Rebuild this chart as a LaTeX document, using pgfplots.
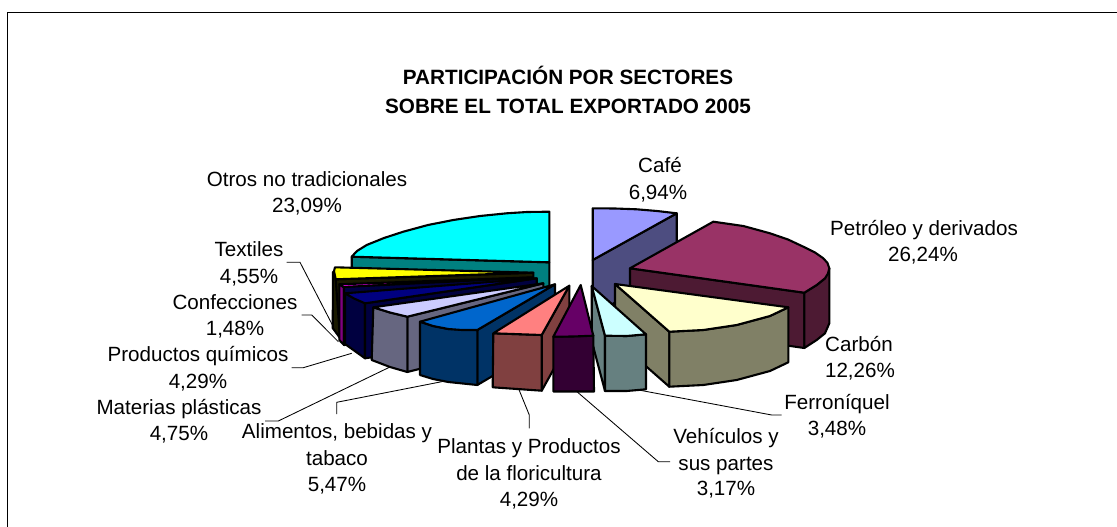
\documentclass[border=0pt]{standalone}
\usepackage{fontspec}
\setmainfont{Liberation Sans}
\usepackage{pgfplots}
\pgfplotsset{compat=1.18}
\definecolor{cafeT}{HTML}{9999FF}\definecolor{cafeS}{HTML}{4D4D80}
\definecolor{petT}{HTML}{993366}\definecolor{petS}{HTML}{4D1A33}
\definecolor{carT}{HTML}{FFFFCC}\definecolor{carS}{HTML}{808066}
\definecolor{ferT}{HTML}{CCFFFF}\definecolor{ferS}{HTML}{668080}
\definecolor{vehT}{HTML}{660066}\definecolor{vehS}{HTML}{330033}
\definecolor{plaT}{HTML}{FF8080}\definecolor{plaS}{HTML}{804040}
\definecolor{aliT}{HTML}{0066CC}\definecolor{aliS}{HTML}{003366}
\definecolor{matT}{HTML}{CCCCFF}\definecolor{matS}{HTML}{666680}
\definecolor{quiT}{HTML}{000080}\definecolor{quiS}{HTML}{000040}
\definecolor{conT}{HTML}{FF00FF}\definecolor{conS}{HTML}{800080}
\definecolor{texT}{HTML}{FFFF00}\definecolor{texS}{HTML}{1A1A00}
\definecolor{otrT}{HTML}{00FFFF}\definecolor{otrS}{HTML}{008080}
\pgfplotsset{face/.style={draw=black,fill=#1,line width=2.1pt,line join=round,line cap=round,no marks,forget plot},
 lead/.style={draw=black,line width=0.85pt,no marks,forget plot}}
\newcommand{\lab}[3]{\node[anchor=base,inner sep=0pt,text=black,yshift=-1.2pt] at (axis cs:#1,#2) {#3};}
\begin{document}
\begin{tikzpicture}
\begin{axis}[scale only axis,width=1117pt,height=527pt,xmin=0,xmax=1117,ymin=0,ymax=527,y dir=reverse,hide axis,
  font=\fontsize{20.6}{23}\selectfont]
\addplot[fill=white,draw=none,forget plot] coordinates {(0,0)(1117,0)(1117,527)(0,527)(0,0)};
\addplot[draw=black,line width=1.3pt,no marks,forget plot] coordinates {(7.5,527)(7.5,12.5)(1117,12.5)};
% leaders
\addplot[lead] coordinates {(286.7,262.3)(300,262.3)(333.3,326.7)};
\addplot[lead] coordinates {(301.7,315)(311.7,315)(338.3,341.7)};
\addplot[lead] coordinates {(291.7,367.7)(303.3,367.7)(351.7,353.3)};
\addplot[lead] coordinates {(265,421)(278.3,421)(392,366)};
\addplot[lead] coordinates {(336.7,414)(336.7,402.3)(441.7,381.7)};
\addplot[lead] coordinates {(529.3,428.3)(529.3,415)(518.3,388)};
\addplot[lead] coordinates {(670,461.7)(658.3,461.7)(575,390)};
\addplot[lead] coordinates {(781.7,415)(771.7,415)(633.3,389)};
% Cafe
\addplot[face=cafeS] coordinates {(592.7,260)(676.7,213.3)(676.7,268.3)(592.7,315)(592.7,260)};
\addplot[face=cafeT] coordinates {(592.7,260)(592.7,208.3)(615,208.5)(636.7,209.3)(657,211)(676.7,213.3)(592.7,260)};
% Otros
\addplot[face=otrS] coordinates {(351.7,256.7)(549.3,262.3)(549.3,317)(351.7,311)(351.7,256.7)};
\addplot[face=otrT] coordinates {(549.3,262.3)(549.3,211.7)(527,212)(506.7,213.3)(480,216)(453.3,220)(428,225)(403.3,231.7)(384,238)(366.7,245)(357,251)(351.7,256.7)(549.3,262.3)};
% Petroleo
\addplot[face=petS] coordinates {(630,268.3)(804.3,292.7)(804.3,348)(630,323.3)(630,268.3)};
\addplot[face=petS] coordinates {(804.3,292.7)(816.7,285)(825,278.3)(829.3,268.3)(829.3,323.3)(825,333.3)(816.7,340)(804.3,348)(804.3,292.7)};
\addplot[face=petT] coordinates {(630,268.3)(713.3,221.7)(743.3,226)(770,233.3)(788,239.5)(803.3,246.7)(815,252.5)(823.3,258.3)(827.5,263)(829.3,268.3)(828,273.5)(825,278.3)(816.7,285)(804.3,292.7)(630,268.3)};
% Textiles
\addplot[face=texS] coordinates {(333,272)(338,281)(340,284)(340,338)(332.7,328)(333,272)};
\addplot[face=texS] coordinates {(335.7,279.3)(533.3,272.7)(533.3,327)(340,338)(335.7,279.3)};
\addplot[face=texT] coordinates {(533.3,272.7)(335,267.3)(334,271)(335.7,279.3)(533.3,272.7)};
% Confecciones
\addplot[face=conS] coordinates {(339.3,284.3)(344,287.3)(344,345)(339.3,340)(339.3,284.3)};
\addplot[face=conT] coordinates {(533.3,277.3)(339.3,284.3)(344,287.3)(533.3,277.3)};
% Quimicos
\addplot[face=quiS] coordinates {(344,287)(533,277.5)(533,332)(344,345)(344,287)};
\addplot[face=quiS] coordinates {(345,293.3)(365,303.3)(365,358.3)(345,344)(345,293.3)};
\addplot[face=quiS] coordinates {(365,303.3)(536.7,278.3)(536.7,333)(365,358.3)(365,303.3)};
\addplot[face=quiT] coordinates {(536.7,278.3)(345,293.3)(354,298.5)(365,303.3)(536.7,278.3)};
% Materias
\addplot[face=matS] coordinates {(407.3,316.7)(543.3,283.3)(543.3,338)(407.3,372)(407.3,316.7)};
\addplot[face=matS] coordinates {(373.3,307.3)(390,312.5)(407.3,316.7)(407.3,372)(390,367)(371.7,360)(373.3,307.3)};
\addplot[face=matT] coordinates {(543.3,283.3)(373.3,307.3)(390,312.5)(407.3,316.7)(543.3,283.3)};
% Alimentos
\addplot[face=aliS] coordinates {(477.3,330)(555,284.3)(555,339.3)(477.3,385)(477.3,330)};
\addplot[face=aliS] coordinates {(420,321.7)(433,326)(448.3,329)(477.3,330)(477.3,385)(448.3,382)(433,379)(420,375)(420,321.7)};
\addplot[face=aliT] coordinates {(555,284.3)(420,321.7)(433,326)(448.3,329)(462,330)(477.3,330)(555,284.3)};
% Plantas
\addplot[face=plaS] coordinates {(541.7,335)(569.3,285.7)(569.3,341)(541.7,390.7)(541.7,335)};
\addplot[face=plaS] coordinates {(493.3,333.3)(541.7,335)(541.7,390.7)(492.7,387.3)(493.3,333.3)};
\addplot[face=plaT] coordinates {(569.3,285.7)(493.3,333.3)(541.7,335)(569.3,285.7)};
% Carbon
\addplot[face=carS] coordinates {(615,284)(669.3,331.7)(669.3,386.7)(615,339)(615,284)};
\addplot[face=carS] coordinates {(669.3,331.7)(703.3,330)(736.7,325)(770,316)(788.3,307.3)(788.3,362.3)(770,371)(736.7,380)(703.3,385)(669.3,386.7)(669.3,331.7)};
\addplot[face=carT] coordinates {(615,284)(788.3,307.3)(770,316)(736.7,325)(703.3,330)(669.3,331.7)(615,284)};
% Ferroniquel
\addplot[face=ferS] coordinates {(591.7,286)(605,335.7)(605,391)(591.7,341)(591.7,286)};
\addplot[face=ferS] coordinates {(605,335.7)(626.7,336)(646,334.3)(646,389.3)(626.7,391)(605,391)(605,335.7)};
\addplot[face=ferT] coordinates {(591.7,286)(646,334.3)(626.7,336)(605,335.7)(591.7,286)};
% Vehiculos
\addplot[face=vehS] coordinates {(553.3,336.7)(593.3,335.7)(594,391.5)(553.3,391.5)(553.3,336.7)};
\addplot[face=vehT] coordinates {(580.7,285)(593.3,335.7)(573,336.5)(553.3,336.7)(580.7,285)};
% text
\lab{568}{83}{\fontsize{20.7}{23}\selectfont\bfseries PARTICIPACIÓN POR SECTORES}
\lab{568}{112}{\fontsize{20.7}{23}\selectfont\bfseries SOBRE EL TOTAL EXPORTADO 2005}
\lab{660}{171}{Café}\lab{658}{198}{6,94\%}
\lab{924}{234}{Petróleo y derivados}\lab{923}{260}{26,24\%}
\lab{859}{350}{Carbón}\lab{860}{376}{12,26\%}
\lab{837}{408}{Ferroníquel}\lab{837}{434}{3,48\%}
\lab{726}{442}{Vehículos y}\lab{726}{469}{sus partes}\lab{726}{494}{3,17\%}
\lab{529}{452}{Plantas y Productos}\lab{529}{479}{de la floricultura}\lab{529}{505}{4,29\%}
\lab{337}{437}{Alimentos, bebidas y}\lab{337}{464}{tabaco}\lab{337}{490}{5,47\%}
\lab{179}{413}{Materias plásticas}\lab{179}{439}{4,75\%}
\lab{198}{360}{Productos químicos}\lab{198}{387}{4,29\%}
\lab{235}{308}{Confecciones}\lab{235}{334}{1,48\%}
\lab{249}{255}{Textiles}\lab{249}{282}{4,55\%}
\lab{307}{185}{Otros no tradicionales}\lab{307}{211}{23,09\%}
\end{axis}
\end{tikzpicture}
\end{document}
